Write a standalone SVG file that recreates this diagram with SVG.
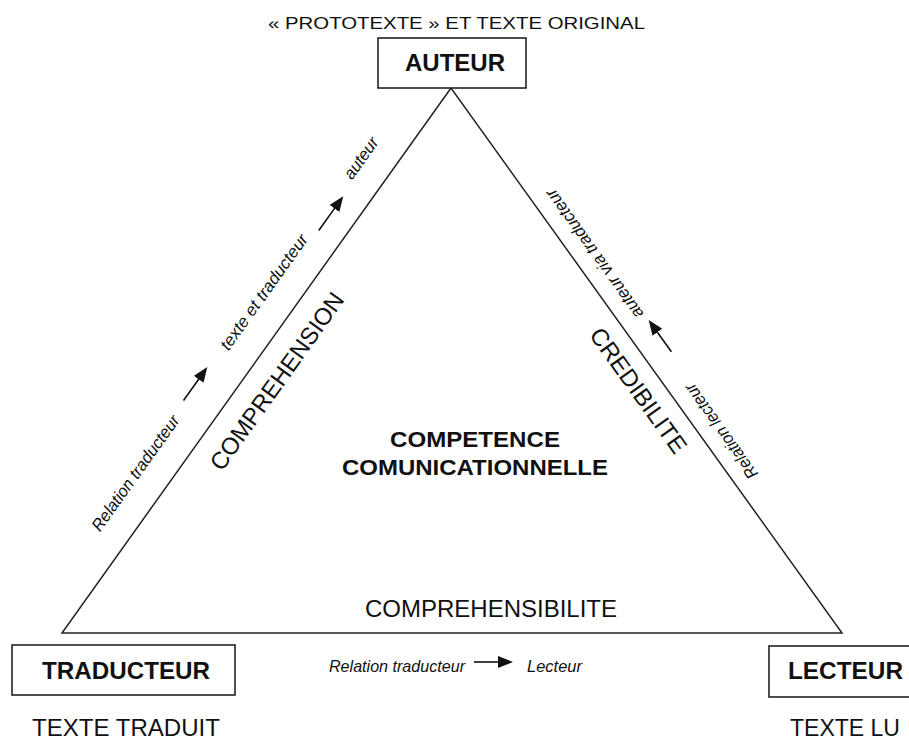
<svg xmlns="http://www.w3.org/2000/svg" width="909" height="740" viewBox="0 0 909 740">
  <style>
    .t { font-family: "Liberation Sans", Arial, sans-serif; fill: #111; }
    .b { font-weight: bold; }
    .i { font-style: italic; font-size: 17px; }
    .box { fill: #fff; stroke: #222; stroke-width: 1.6; }
    .edge { fill: none; stroke: #222; stroke-width: 1.5; stroke-linejoin: miter; }
    .arr { stroke: #111; stroke-width: 1.6; marker-end: url(#ah); }
  </style>
  <defs>
    <marker id="ah" viewBox="0 0 15 12" markerWidth="15" markerHeight="12" refX="1" refY="6" orient="auto" markerUnits="userSpaceOnUse">
      <path d="M0,0 L15,6 L0,12 z" fill="#111"/>
    </marker>
  </defs>
  <rect width="909" height="740" fill="#fff"/>

  <g id="connectors">
    <polygon class="edge" points="451,88 62,633 842,633"/>
    <!-- left edge labels -->
    <g transform="translate(62,632) rotate(-54.4)">
      <text class="t i" x="103" y="-27" textLength="138" lengthAdjust="spacingAndGlyphs">Relation traducteur</text>
      <line class="arr" x1="259" y1="-36" x2="286" y2="-36"/>
      <text class="t i" x="325" y="-28" textLength="138" lengthAdjust="spacingAndGlyphs">texte et traducteur</text>
      <line class="arr" x1="476" y1="-25" x2="504" y2="-25"/>
      <text class="t i" x="536" y="-27" textLength="47" lengthAdjust="spacingAndGlyphs">auteur</text>
      <text class="t" x="223" y="37" font-size="24" textLength="212" lengthAdjust="spacingAndGlyphs">COMPREHENSION</text>
    </g>
    <!-- right edge labels -->
    <g transform="translate(842,633) rotate(-125.6)">
      <text class="t i" x="178" y="25" textLength="113" lengthAdjust="spacingAndGlyphs">Relation lecteur</text>
      <line class="arr" x1="328" y1="25" x2="353" y2="25"/>
      <text class="t i" x="375" y="25" textLength="155" lengthAdjust="spacingAndGlyphs">auteur via traducteur</text>
    </g>
    <g transform="translate(451,88) rotate(54.4)">
      <text class="t" x="281" y="32" font-size="24" textLength="148" lengthAdjust="spacingAndGlyphs">CREDIBILITE</text>
    </g>
    <!-- bottom edge labels -->
    <text class="t" x="365" y="617" font-size="24" textLength="252" lengthAdjust="spacingAndGlyphs">COMPREHENSIBILITE</text>
    <text class="t i" x="329" y="672" textLength="136" lengthAdjust="spacingAndGlyphs">Relation traducteur</text>
    <line class="arr" x1="474" y1="662" x2="499" y2="662"/>
    <text class="t i" x="527" y="672" textLength="55" lengthAdjust="spacingAndGlyphs">Lecteur</text>
  </g>

  <g id="auteur">
    <text class="t" x="268" y="29" font-size="17" textLength="377" lengthAdjust="spacingAndGlyphs">« PROTOTEXTE » ET TEXTE ORIGINAL</text>
    <rect class="box" x="378" y="38" width="148" height="50"/>
    <text class="t b" x="405" y="71" font-size="24" textLength="100" lengthAdjust="spacingAndGlyphs">AUTEUR</text>
  </g>

  <g id="traducteur">
    <rect class="box" x="12" y="645" width="223" height="50"/>
    <text class="t b" x="42" y="679" font-size="24" textLength="168" lengthAdjust="spacingAndGlyphs">TRADUCTEUR</text>
    <text class="t" x="32" y="736" font-size="24" textLength="188" lengthAdjust="spacingAndGlyphs">TEXTE TRADUIT</text>
  </g>

  <g id="lecteur">
    <rect class="box" x="769" y="646" width="160" height="51"/>
    <text class="t b" x="788" y="679" font-size="24" textLength="115" lengthAdjust="spacingAndGlyphs">LECTEUR</text>
    <text class="t" x="790" y="736" font-size="24" textLength="110" lengthAdjust="spacingAndGlyphs">TEXTE LU</text>
  </g>

  <g id="competence">
    <text class="t b" x="390" y="447" font-size="22" textLength="170" lengthAdjust="spacingAndGlyphs">COMPETENCE</text>
    <text class="t b" x="342" y="475" font-size="22" textLength="266" lengthAdjust="spacingAndGlyphs">COMUNICATIONNELLE</text>
  </g>
</svg>
